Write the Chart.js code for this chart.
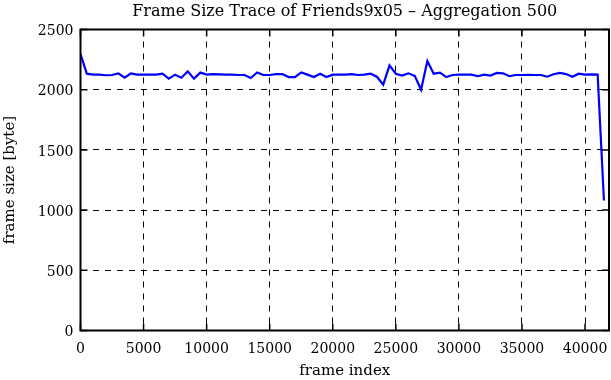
<!DOCTYPE html>
<html>
<head>
<meta charset="utf-8">
<script src="https://cdn.jsdelivr.net/npm/chart.js@4/dist/chart.umd.min.js"></script>
<style>
html,body{margin:0;padding:0;background:#fff;}
#wrap{width:611px;height:380px;position:relative;}
</style>
</head>
<body>
<div id="wrap"><canvas id="c" width="611" height="380"></canvas></div>
<script>
const chartTitle = "Frame Size Trace of Friends9x05 \u2013 Aggregation 500";
const xAxisTitle = "frame index";
const yAxisTitle = "frame size [byte]";
const frameIndex = [];
for (let k = 0; k <= 83; k++) frameIndex.push(k * 500);
const frameSize = [
  2295, 2133, 2125, 2125, 2120, 2122, 2135, 2100, 2135, 2125,
  2125, 2125, 2125, 2133, 2092, 2125, 2100, 2152, 2092, 2142,
  2125, 2130, 2128, 2125, 2125, 2122, 2122, 2097, 2143, 2122,
  2122, 2130, 2130, 2105, 2105, 2143, 2125, 2105, 2133, 2105,
  2125, 2125, 2125, 2130, 2122, 2125, 2133, 2108, 2042, 2202,
  2133, 2118, 2136, 2115, 2000, 2238, 2133, 2142, 2105, 2122,
  2125, 2125, 2125, 2112, 2125, 2117, 2139, 2136, 2112, 2122,
  2122, 2124, 2122, 2122, 2108, 2128, 2140, 2130, 2108, 2133,
  2125, 2128, 2125, 1080
];
const xTicks = [0, 5000, 10000, 15000, 20000, 25000, 30000, 35000, 40000];
const yTicks = [0, 500, 1000, 1500, 2000, 2500];
const xMax = 41900;

const FONT = "DejaVu Serif";

const framePlugin = {
  id: 'frame',
  afterDatasetsDraw(chart) {
    const {ctx, chartArea: a, scales: {x, y}} = chart;
    ctx.save();
    ctx.strokeStyle = '#000';
    ctx.lineWidth = 2;
    ctx.setLineDash([]);
    ctx.strokeRect(a.left, a.top, a.right - a.left, a.bottom - a.top);
    ctx.lineWidth = 1.5;
    const L = 7;
    ctx.beginPath();
    xTicks.forEach(v => {
      const px = x.getPixelForValue(v);
      ctx.moveTo(px, a.bottom); ctx.lineTo(px, a.bottom - L);
      ctx.moveTo(px, a.top); ctx.lineTo(px, a.top + L);
    });
    yTicks.forEach(v => {
      const py = y.getPixelForValue(v);
      ctx.moveTo(a.left, py); ctx.lineTo(a.left + L, py);
      ctx.moveTo(a.right, py); ctx.lineTo(a.right - L, py);
    });
    ctx.stroke();
    ctx.restore();
  }
};

new Chart(document.getElementById('c'), {
  type: 'line',
  data: {
    labels: frameIndex,
    datasets: [{
      data: frameIndex.map((f, i) => ({x: f, y: frameSize[i]})),
      borderColor: '#0000ff',
      borderWidth: 2.2,
      pointRadius: 0,
      tension: 0,
      fill: false
    }]
  },
  options: {
    responsive: false,
    animation: false,
    devicePixelRatio: 1,
    layout: {padding: {left: 0, right: 2, top: 0, bottom: 0}},
    plugins: {
      legend: {display: false},
      tooltip: {enabled: false},
      title: {
        display: true,
        text: chartTitle,
        fullSize: false,
        color: '#000',
        font: {family: FONT, size: 16, weight: 'normal'},
        padding: {top: 2, bottom: 8.3}
      }
    },
    scales: {
      x: {
        type: 'linear',
        min: 0,
        max: xMax,
        afterBuildTicks(scale) { scale.ticks = xTicks.map(v => ({value: v})); },
        afterFit(scale) { scale.height = 49.5; scale.paddingLeft = 0; scale.paddingRight = 0; },
        ticks: {
          color: '#000',
          font: {family: FONT, size: 14},
          padding: 10,
          maxRotation: 0,
          autoSkip: false,
          callback: v => String(v)
        },
        grid: {
          drawTicks: false,
          color: ctx => (ctx.tick && (ctx.tick.value === 0 || ctx.tick.value >= xMax)) ? 'rgba(0,0,0,0)' : '#000',
          lineWidth: 1
        },
        border: {display: false, dash: [6, 6]},
        title: {
          display: true,
          text: xAxisTitle,
          color: '#000',
          font: {family: FONT, size: 15},
          padding: {top: 0, bottom: 0}
        }
      },
      y: {
        type: 'linear',
        min: 0,
        max: 2500,
        afterBuildTicks(scale) { scale.ticks = yTicks.map(v => ({value: v})); },
        afterFit(scale) { scale.width = 80.5; scale.paddingTop = 0; scale.paddingBottom = 0; },
        ticks: {
          color: '#000',
          font: {family: FONT, size: 14},
          padding: 7,
          labelOffset: 2,
          autoSkip: false,
          callback: v => String(v)
        },
        grid: {
          drawTicks: false,
          color: ctx => (ctx.tick && (ctx.tick.value === 0 || ctx.tick.value === 2500)) ? 'rgba(0,0,0,0)' : '#000',
          lineWidth: 1
        },
        border: {display: false, dash: [6, 6]},
        title: {
          display: true,
          text: yAxisTitle,
          color: '#000',
          font: {family: FONT, size: 15},
          padding: {top: 1, bottom: 0}
        }
      }
    }
  },
  plugins: [framePlugin]
});
</script>
</body>
</html>
